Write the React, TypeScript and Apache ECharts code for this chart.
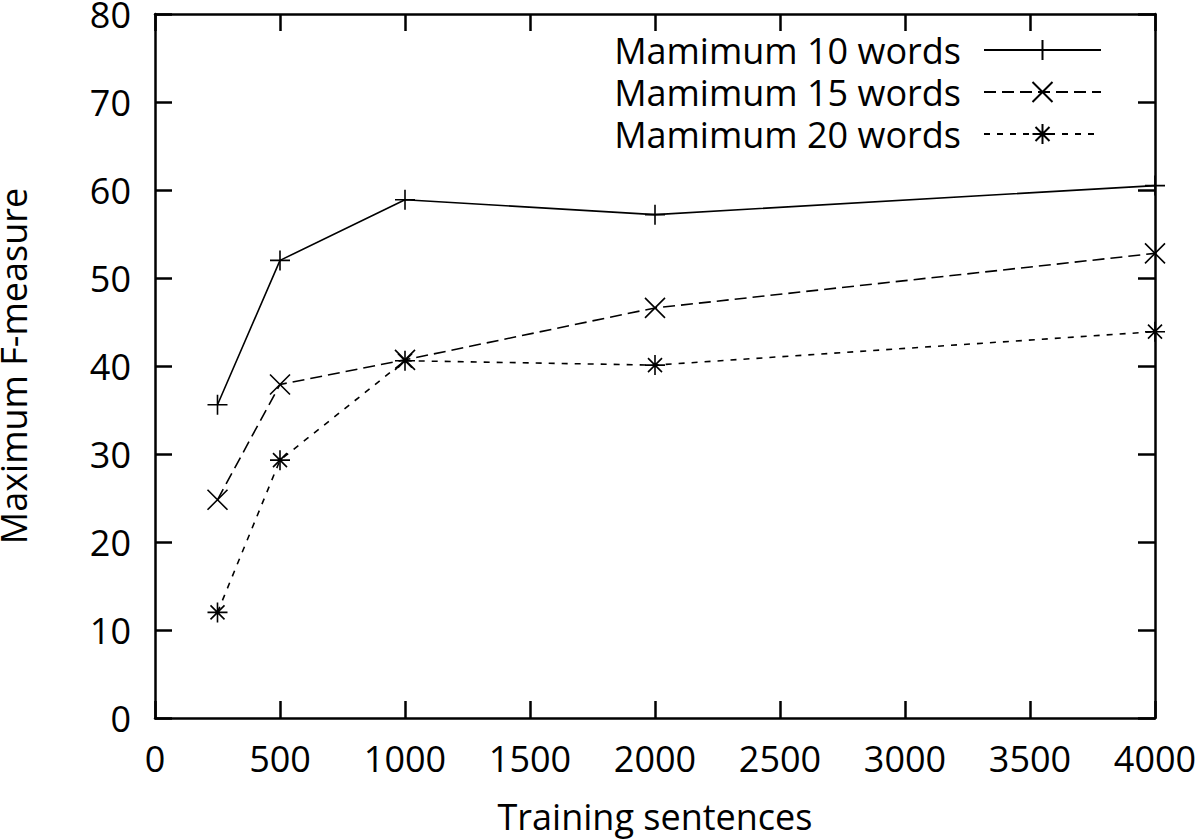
import React, { useEffect, useRef } from "react";
import * as echarts from "echarts";

const xValues = [250, 500, 1000, 2000, 4000];
const seriesNames = ["Mamimum 10 words", "Mamimum 15 words", "Mamimum 20 words"];
const words10 = [35.6, 52.0, 58.9, 57.2, 60.5];
const words15 = [24.8, 37.9, 40.7, 46.6, 52.8];
const words20 = [12.0, 29.3, 40.6, 40.1, 43.9];

const FONT = "Open Sans";

const PLUS = "path://M0,10L20,10M10,0L10,20";
const CROSS = "path://M0,0L20,20M20,0L0,20";
const STAR = "path://M0,10L20,10M10,0L10,20M3,3L17,17M17,3L3,17";

export default function App() {
  const ref = useRef<HTMLDivElement>(null);
  useEffect(() => {
    if (!ref.current) return;
    const chart = echarts.init(ref.current, undefined, { renderer: "svg" });
    const mk = (name: string, vals: number[], symbol: string, dash: any) => ({
      name,
      type: "line",
      data: xValues.map((x, i) => [x, vals[i]]),
      symbol,
      symbolSize: 20,
      showAllSymbol: true,
      lineStyle: { color: "#000", width: 1.6, type: dash },
      itemStyle: { color: "#000", borderColor: "#000", borderWidth: 1.6 },
      emphasis: { disabled: true },
      z: 3,
    });
    const axisCommon = {
      type: "value" as const,
      axisLine: { show: true, onZero: false, lineStyle: { color: "#000", width: 2.5 } },
      axisTick: { show: true, inside: true, length: 17, lineStyle: { color: "#000", width: 2.5 } },
      splitLine: { show: false },
    };
    chart.setOption({
      animation: false,
      backgroundColor: "#fff",
      textStyle: { fontFamily: FONT },
      grid: {
        left: 155,
        right: 45,
        top: 14,
        bottom: 122,
        containLabel: false,
        outerBoundsMode: "none",
      },
      legend: {
        orient: "vertical",
        right: 93,
        top: 27,
        align: "right",
        itemWidth: 117,
        itemHeight: 25,
        itemGap: 6,
        data: seriesNames,
        textStyle: {
          fontFamily: FONT,
          fontSize: 36,
          lineHeight: 34,
          color: "#000",
          padding: [0, 18, 0, 0],
        },
        inactiveColor: "#000",
        selectedMode: false,
      },
      xAxis: [
        {
          ...axisCommon,
          min: 0,
          max: 4000,
          interval: 500,
          position: "bottom",
          name: "Training sentences",
          nameLocation: "middle",
          nameGap: 80,
          nameTextStyle: { fontFamily: FONT, fontSize: 36, color: "#000" },
          axisLabel: {
            fontFamily: FONT,
            fontSize: 36,
            color: "#000",
            margin: 22,
            formatter: (v: number) => String(v),
          },
        },
        {
          ...axisCommon,
          min: 0,
          max: 4000,
          interval: 500,
          position: "top",
          axisLabel: { show: false },
        },
      ],
      yAxis: [
        {
          ...axisCommon,
          min: 0,
          max: 80,
          interval: 10,
          position: "left",
          name: "Maximum F-measure",
          nameLocation: "middle",
          nameGap: 124,
          nameTextStyle: { fontFamily: FONT, fontSize: 36, color: "#000" },
          axisLabel: {
            fontFamily: FONT,
            fontSize: 36,
            color: "#000",
            margin: 24,
            formatter: (v: number) => String(v),
          },
        },
        {
          ...axisCommon,
          min: 0,
          max: 80,
          interval: 10,
          position: "right",
          axisLabel: { show: false },
        },
      ],
      series: [
        mk(seriesNames[0], words10, PLUS, "solid"),
        mk(seriesNames[1], words15, CROSS, [12, 6]),
        mk(seriesNames[2], words20, STAR, [6, 7]),
      ],
    });
    return () => chart.dispose();
  }, []);
  return (
    <div
      ref={ref}
      style={{ position: "fixed", left: 0, top: 0, width: 1200, height: 840, background: "#fff" }}
    />
  );
}
